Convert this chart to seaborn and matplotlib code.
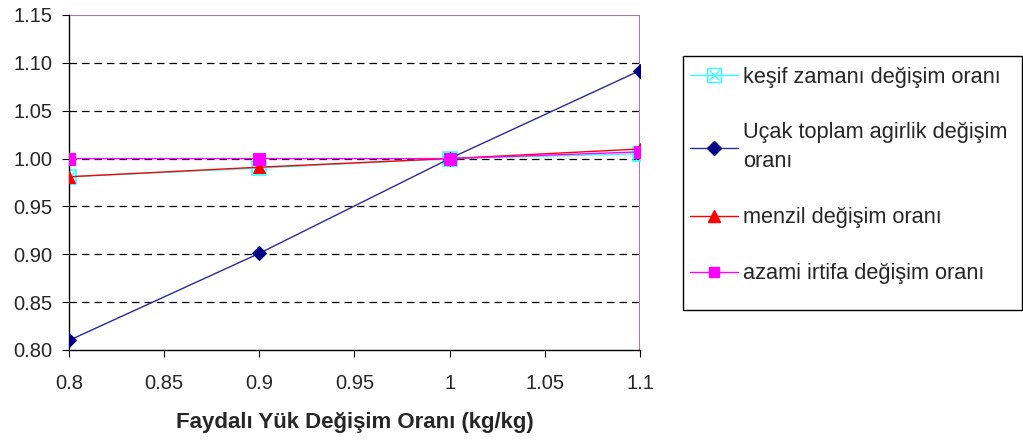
import matplotlib
matplotlib.use("Agg")
import matplotlib.pyplot as plt
import seaborn as sns
import pandas as pd
from matplotlib.legend_handler import HandlerTuple
from matplotlib.patches import Rectangle

sns.set_style("white")
plt.rcParams['font.family'] = ['Liberation Sans', 'DejaVu Sans']

x_vals = [0.8, 0.9, 1.0, 1.1]
kesif = [0.981, 0.990, 1.000, 1.005]
ucak = [0.810, 0.901, 1.000, 1.092]
menzil = [0.981, 0.991, 1.000, 1.010]
azami = [1.000, 1.000, 1.000, 1.007]
labels = ["keşif zamanı değişim oranı",
          "Uçak toplam agirlik değişim\noranı",
          "menzil değişim oranı",
          "azami irtifa değişim oranı"]
x_ticks = [0.8, 0.85, 0.9, 0.95, 1.0, 1.05, 1.1]
x_tick_labels = ["0.8", "0.85", "0.9", "0.95", "1", "1.05", "1.1"]
y_ticks = [0.80, 0.85, 0.90, 0.95, 1.00, 1.05, 1.10, 1.15]

df = pd.DataFrame({"x": x_vals, "kesif": kesif, "ucak": ucak,
                   "menzil": menzil, "azami": azami})

fig = plt.figure(figsize=(10.23, 4.41), dpi=100)
ax = fig.add_axes([69/1023, 1-350/441, (640-69)/1023, (350-15)/441])

for yt in y_ticks[1:-1]:
    ax.axhline(yt, color='black', lw=0.9, ls=(0, (6, 4)), zorder=0)

sns.lineplot(data=df, x="x", y="ucak", ax=ax, color="#2A2A9A", lw=1,
             marker="D", markersize=7, markerfacecolor="#000080",
             markeredgecolor="#000080", zorder=3)
sns.lineplot(data=df, x="x", y="menzil", ax=ax, color="red", lw=1,
             marker="^", markersize=9, markeredgecolor="red", zorder=4)
sns.lineplot(data=df, x="x", y="kesif", ax=ax, color="#33FFFF", lw=1,
             marker="s", markersize=10, markerfacecolor="none",
             markeredgecolor="#33FFFF", markeredgewidth=1.2, zorder=2)
sns.scatterplot(data=df, x="x", y="kesif", ax=ax, marker="x", s=50,
                color="#33FFFF", linewidth=1.2, zorder=2)
sns.lineplot(data=df, x="x", y="azami", ax=ax, color="#FF00FF", lw=1,
             marker="s", markersize=8, markeredgecolor="#FF00FF", zorder=5)

ax.set_xlim(0.8, 1.1)
ax.set_ylim(0.8, 1.15)
ax.set_xticks(x_ticks)
ax.set_xticklabels(x_tick_labels)
ax.set_yticks(y_ticks)
ax.set_yticklabels([f"{v:.2f}" for v in y_ticks])
ax.tick_params(axis='both', labelsize=14.5, length=5, direction='out',
               bottom=True, left=True, color='black')
ax.tick_params(axis='y', pad=7)
ax.tick_params(axis='x', pad=12)
ax.set_xlabel("Faydalı Yük Değişim Oranı (kg/kg)", fontsize=16,
              fontweight='bold', labelpad=14)
ax.set_ylabel("")
ax.axhline(1.15, color='#AA77BB', lw=1.5, zorder=1)
for side in ['top', 'right']:
    ax.spines[side].set_visible(False)
ax.axvline(1.1, color='#AA77BB', lw=1.5, zorder=1)
for side in ['left', 'bottom']:
    ax.spines[side].set_color('black')
    ax.spines[side].set_linewidth(1)

h_kesif = (plt.Line2D([], [], color="#33FFFF", lw=1, marker="s", markersize=10,
                      markerfacecolor="none", markeredgecolor="#33FFFF"),
           plt.Line2D([], [], color="#33FFFF", lw=0, marker="x", markersize=7))
h_ucak = plt.Line2D([], [], color="#2A2A9A", lw=1, marker="D", markersize=7,
                    markerfacecolor="#000080", markeredgecolor="#000080")
h_menzil = plt.Line2D([], [], color="red", lw=1, marker="^", markersize=8)
h_azami = plt.Line2D([], [], color="#FF00FF", lw=1, marker="s", markersize=7)

fig.patches.append(Rectangle((683/1023, 1-310/441), 339/1023, 254/441,
                             transform=fig.transFigure, fill=False,
                             edgecolor='black', lw=1))
leg = fig.legend([h_kesif, h_ucak, h_menzil, h_azami], labels,
                 handler_map={tuple: HandlerTuple(ndivide=1, pad=0)},
                 loc='upper left', bbox_to_anchor=(683/1023, 1-60/441),
                 bbox_transform=fig.transFigure, fontsize=15.7,
                 frameon=False,
                 labelspacing=1.6, handlelength=2.2, handletextpad=0.25,
                 borderpad=0.3, borderaxespad=0)
leg.get_texts()[1].set_linespacing(1.5)

fig.savefig("out.png", dpi=100)
